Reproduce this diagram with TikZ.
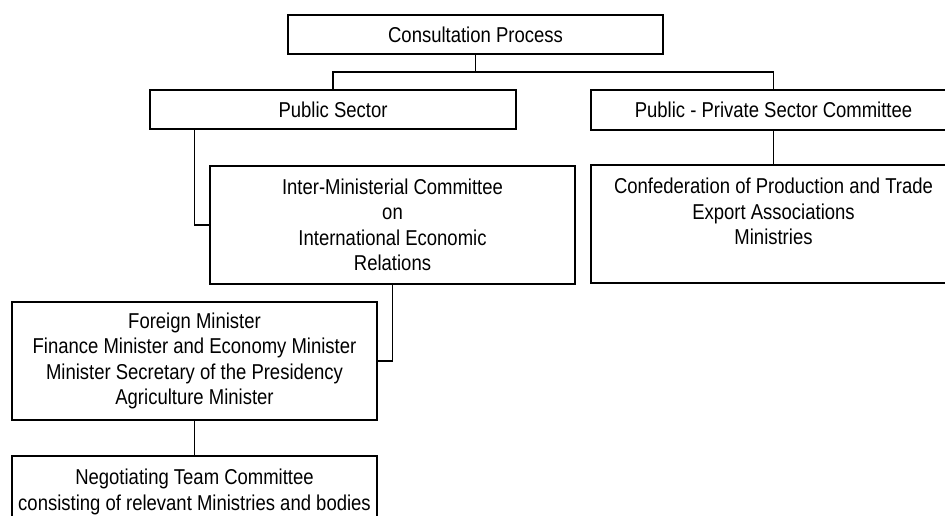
\documentclass[tikz,border=0pt]{standalone}
\usepackage{fontspec}
\setmainfont{Liberation Sans}[FakeStretch=0.86]
\begin{document}
\begin{tikzpicture}[x=1pt,y=-1pt,
  box/.style={draw, line width=1.3pt, rectangle, inner sep=0pt, align=center,
    font=\fontsize{21.5}{25.5}\selectfont},
  flat/.style={box, minimum width=365pt, minimum height=39pt},
  tall/.style={box, minimum width=365pt, minimum height=118pt},
  link/.style={line width=1.3pt}]
\useasboundingbox (0,0) rectangle (945,515);
\clip (0,0) rectangle (945,515);

% top level
\node[flat, minimum width=375pt] (cp) at (475.5,34.5) {Consultation Process};

% second level
\node[flat, minimum width=366pt] (ps) at (333,109.5) {Public Sector};
\node[flat, minimum height=40pt] (pp) at (773.5,110) {Public - Private Sector Committee};

% third level
\node[tall] (imc) at (392.5,225) {Inter-Ministerial Committee\\on\\International Economic\\Relations};
\node[tall] (conf) at (773.5,224) {Confederation of Production and Trade\\Export Associations\\Ministries\\\mbox{}};

% ministers and negotiating team
\node[tall] (fm) at (194.5,361) {Foreign Minister\\Finance Minister and Economy Minister\\Minister Secretary of the Presidency\\Agriculture Minister};
\node[tall] (ntc) at (194.5,515) {Negotiating Team Committee\\consisting of relevant Ministries and bodies\\\mbox{}\\\mbox{}};

% connectors
\coordinate (bus) at (475.5,72);
\draw[link] (cp.south) -- (bus);
\draw[link] (ps.north) |- (bus) -| (pp.north);
\draw[link] ([xshift=45pt]ps.south west) |- (imc.west);
\draw[link] (pp.south) -- (conf.north);
\draw[link] (imc.south) |- (fm.east);
\draw[link] (fm.south) -- (ntc.north);
\end{tikzpicture}
\end{document}
